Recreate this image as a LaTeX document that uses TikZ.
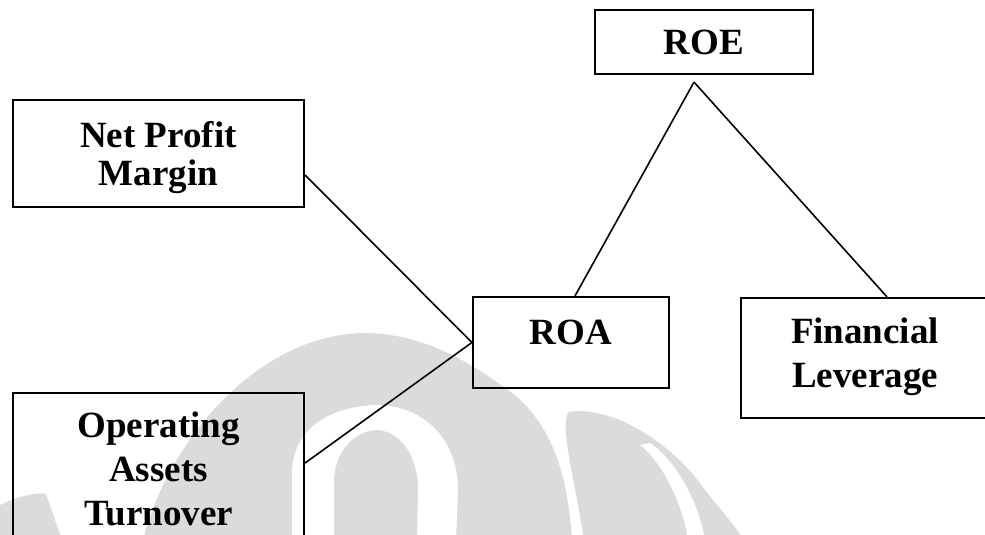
\documentclass[tikz,border=0pt]{standalone}
\usepackage{fontspec}
\setmainfont{Liberation Serif}
\tikzset{
  box/.style={draw=black, line width=2.2pt, rectangle, inner sep=0pt},
  lbl/.style={font=\fontsize{37}{44}\selectfont\bfseries, align=center, inner sep=0pt, anchor=base},
  link/.style={draw=black, line width=1.6pt},
  wm/.style={fill=black!14, draw=none},
  wmw/.style={fill=white, draw=none}
}
\begin{document}
\begin{tikzpicture}[x=1pt,y=-1pt]
\useasboundingbox (0,0) rectangle (985,535);
\clip (0,0) rectangle (985,535);
% watermark (faint logo)
\path[wm] (143,540) .. controls (165,450) and (250,338) .. (360,333)
  .. controls (430,332) and (480,370) .. (515,395)
  .. controls (555,430) and (568,480) .. (572,540) -- cycle;
\path[wmw] (292,540) -- (292,470) .. controls (295,425) and (335,405) .. (380,405)
  .. controls (430,408) and (458,445) .. (458,490) -- (456,540) -- cycle;
\path[wm] (334,540) -- (334,480) .. controls (336,445) and (360,430) .. (378,430)
  .. controls (400,432) and (418,455) .. (418,490) -- (417,540) -- cycle;
\path[wm] (584,540) .. controls (575,480) and (560,430) .. (568,412)
  .. controls (610,405) and (670,440) .. (705,490)
  .. controls (725,515) and (738,530) .. (744,540) -- cycle;
\path[wmw] (688,540) .. controls (682,500) and (660,460) .. (640,445)
  -- (650,443) .. controls (675,460) and (698,500) .. (705,540) -- cycle;
\path[wm] (0,540) -- (0,505) .. controls (20,495) and (40,492) .. (46,494)
  -- (62,540) -- cycle;
% boxes
\node[box, minimum width=218pt, minimum height=64pt] (roe) at (704,42) {};
\node[box, minimum width=291pt, minimum height=107pt] (npm) at (158.5,153.5) {};
\node[box, minimum width=196pt, minimum height=91pt] (roa) at (571,342.5) {};
\node[box, minimum width=247pt, minimum height=120pt] (fl) at (864.5,358) {};
\node[box, minimum width=291pt, minimum height=162pt] (oat) at (158.5,474) {};
% labels (base anchor = baseline of last line)
\node[lbl] (troe) at (704,55) {ROE};
\node[lbl, font=\fontsize{37}{38}\selectfont\bfseries] (tnpm) at (158.5,185) {Net Profit\\Margin};
\node[lbl] (troa) at (571,344) {ROA};
\node[lbl] (tfl) at (865,387) {Financial\\Leverage};
\node[lbl, font=\fontsize{37}{44}\selectfont\bfseries] (toat) at (158.5,525) {Operating\\Assets\\Turnover};
% connectors
\coordinate (apex) at ([xshift=-10pt,yshift=-7pt]roe.south);
\draw[link] (apex) -- ([xshift=4pt]roa.north);
\draw[link] (apex) -- ([xshift=22.5pt]fl.north);
\draw[link] ([yshift=-21.5pt]npm.east) -- (roa.west);
\draw[link] ([yshift=11pt]oat.east) -- (roa.west);
\end{tikzpicture}
\end{document}
